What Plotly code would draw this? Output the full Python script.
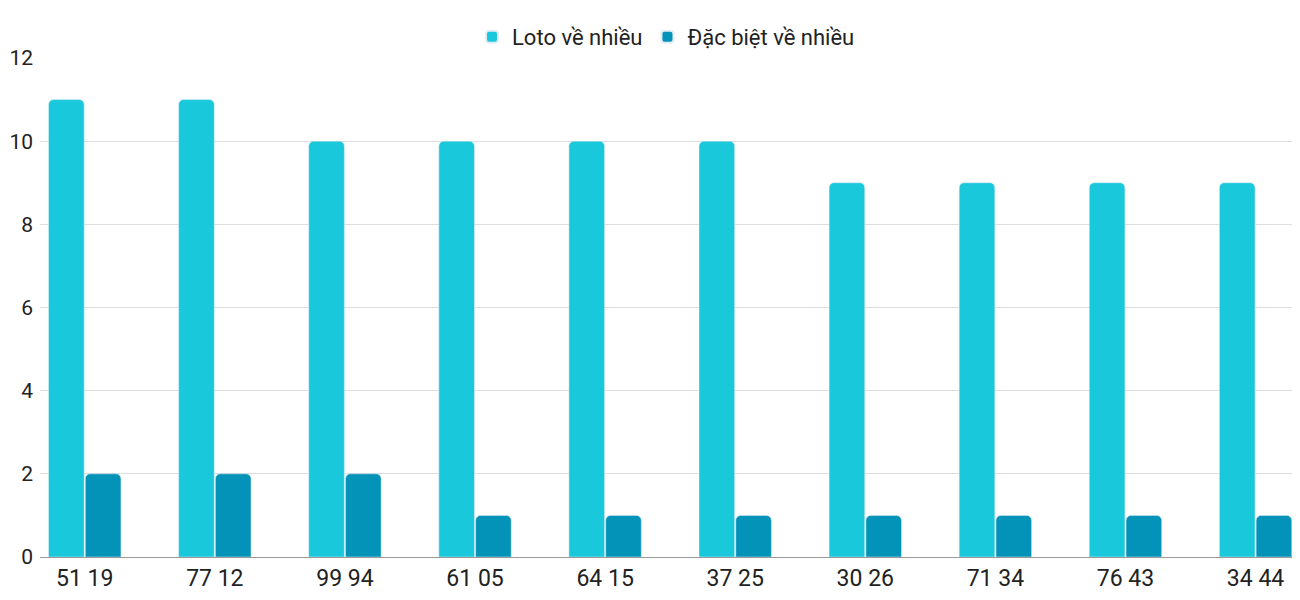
import plotly.graph_objects as go

categories = ["51 19","77 12","99 94","61 05","64 15","37 25","30 26","71 34","76 43","34 44"]
loto = [11,11,10,10,10,10,9,9,9,9]
dacbiet = [2,2,2,1,1,1,1,1,1,1]

fig = go.Figure()
fig.add_bar(x=categories, y=loto, name="Loto về nhiều", marker_color="#1AC8DB")
fig.add_bar(x=categories, y=dacbiet, name="Đặc biệt về nhiều", marker_color="#0493B8")
fig.update_layout(
    width=1284, height=584, barmode="group", bargap=0.435, bargroupgap=0.03,
    barcornerradius=5,
    plot_bgcolor="white", paper_bgcolor="white",
    font=dict(family="Roboto", size=22, color="#222"),
    margin=dict(l=32, r=0, t=50, b=26),
    legend=dict(orientation="h", x=0.5, xanchor="center", y=1.0, yanchor="bottom",
                font=dict(size=22), itemsizing="constant"),
    xaxis=dict(range=[-0.344, 9.28], showgrid=False, showline=True, linecolor="#999",
               tickfont=dict(size=23), ticklabelstandoff=0),
    yaxis=dict(range=[0, 12], dtick=2, gridcolor="#ddd", zeroline=False,
               tickfont=dict(size=21), ticklabelstandoff=6),
)
fig.write_html("out.html")
